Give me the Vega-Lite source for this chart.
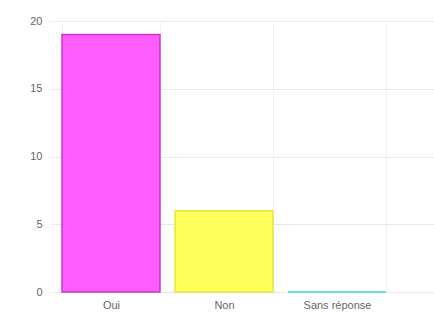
{
  "$schema": "https://vega.github.io/schema/vega-lite/v6.json",
  "width": 380,
  "height": 271,
  "autosize": {"type": "none"},
  "padding": {"left": 54, "top": 21, "right": 0, "bottom": 25},
  "background": "#ffffff",
  "config": {"view": {"stroke": null}, "font": "Liberation Sans"},
  "data": {
    "values": [
      {"reponse": "Oui", "n": 19},
      {"reponse": "Non", "n": 6},
      {"reponse": "Sans réponse", "n": 0}
    ]
  },
  "mark": {"type": "bar", "strokeWidth": 1.5},
  "encoding": {
    "x": {
      "field": "reponse",
      "type": "nominal",
      "sort": null,
      "scale": {"paddingInner": 0.133, "paddingOuter": 0.248, "align": 0.143},
      "axis": {
        "title": null,
        "labelAngle": 0,
        "labelColor": "#666666",
        "labelFontSize": 11,
        "labelPadding": 7,
        "domain": false,
        "ticks": false,
        "grid": true,
        "tickBand": "extent",
        "gridColor": "#f2f2f2",
        "gridWidth": 1
      }
    },
    "y": {
      "field": "n",
      "type": "quantitative",
      "scale": {"domain": [0, 20]},
      "axis": {
        "title": null,
        "values": [0, 5, 10, 15, 20],
        "labelColor": "#666666",
        "labelFontSize": 11,
        "labelPadding": 7,
        "domain": false,
        "tickColor": "#eeeeee",
        "tickSize": 5,
        "gridColor": "#e8e8e8",
        "gridWidth": 1
      }
    },
    "color": {
      "field": "reponse",
      "type": "nominal",
      "legend": null,
      "scale": {
        "domain": ["Oui", "Non", "Sans réponse"],
        "range": ["#ff5cff", "#ffff5c", "#5ce8e8"]
      }
    },
    "stroke": {
      "field": "reponse",
      "type": "nominal",
      "legend": null,
      "scale": {
        "domain": ["Oui", "Non", "Sans réponse"],
        "range": ["#c936c9", "#e6e640", "#40d6d6"]
      }
    }
  }
}
